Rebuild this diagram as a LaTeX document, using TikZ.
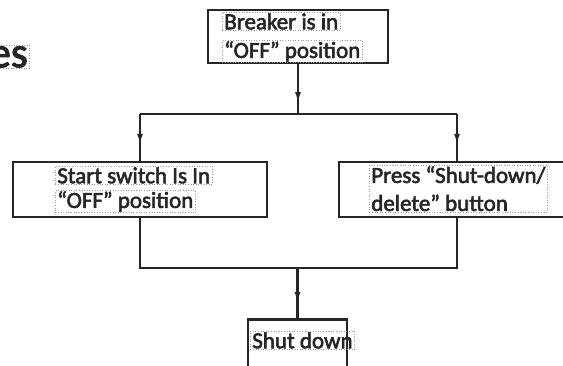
\documentclass[tikz,border=0pt]{standalone}
\usepackage{fontspec}
\setmainfont{Carlito}
\newfontfamily\boxfont{Carlito}[FakeBold=2.5]
\usetikzlibrary{arrows.meta, positioning, decorations.markings, calc}
\tikzset{
  %% Flow box (text sits in its own frames)
  fbox/.style={
    rectangle, draw=black!85, line width=2.6pt,
    minimum width=#1, minimum height=55pt, inner sep=0pt
  },
  fbox/.default=254pt,
  %% Dotted frame round a line of text
  tline/.style={
    draw=black!40, dotted, line width=0.6pt,
    font=\boxfont\fontsize{23}{28}\selectfont, text=black!85,
    inner xsep=2pt, inner ysep=1pt,
    anchor=north west, align=left
  },
  %% Plain connector
  wire/.style={draw=black!85, line width=2.4pt},
  %% Connector with its arrow part way along
  midarr/.style={
    wire, postaction={decorate},
    decoration={markings,
      mark=at position #1 with {\arrow{Latex[length=12pt,width=6pt]}}}
  },
  midarr/.default=0.7,
}

\begin{document}
\begin{tikzpicture}[x=1pt, y=-1pt]
  \clip (0,0) rectangle (563,365);

  %% Boxes
  \node[fbox=180pt, minimum height=53pt] (breaker) at (298,36.5) {};
  \node[fbox] (startsw) at (140,189.5) {};
  \node[fbox=236pt] (pressbtn) at (457,189.5) {};
  \node[fbox=99pt, minimum height=60pt, anchor=north] (shutdn) at (297.5,318) {};

  %% Texts
  \node[tline] (brk1) at (222,12) {Breaker is in};
  \node[tline] (brk2) at (222,40) {“OFF” position};
  \node[tline] (sw1) at (55,166) {Start switch Is In};
  \node[tline] (sw2) at (55,190) {“OFF” position};
  \node[tline] (press) at (369,165) {Press “Shut-down/\\delete” button};
  \node[tline] (down) at (250,331) {Shut down};
  \node[tline, font=\boxfont\fontsize{43}{50}\selectfont, anchor=north east] (cut) at (30,45) {es};

  %% Connectors
  \coordinate (split) at (298,114);
  \coordinate (join) at (297.5,268);
  \draw[midarr=0.8] (breaker.south) -- (split);
  \draw[wire] (startsw.north |- split) -- (pressbtn.north |- split);
  \draw[midarr=0.68] (startsw.north |- split) -- (startsw.north);
  \draw[midarr=0.68] (pressbtn.north |- split) -- (pressbtn.north);
  \draw[wire] (startsw.south) |- (join) -| (pressbtn.south);
  \draw[midarr=0.72] (join) -- (shutdn.north);

\end{tikzpicture}
\end{document}
